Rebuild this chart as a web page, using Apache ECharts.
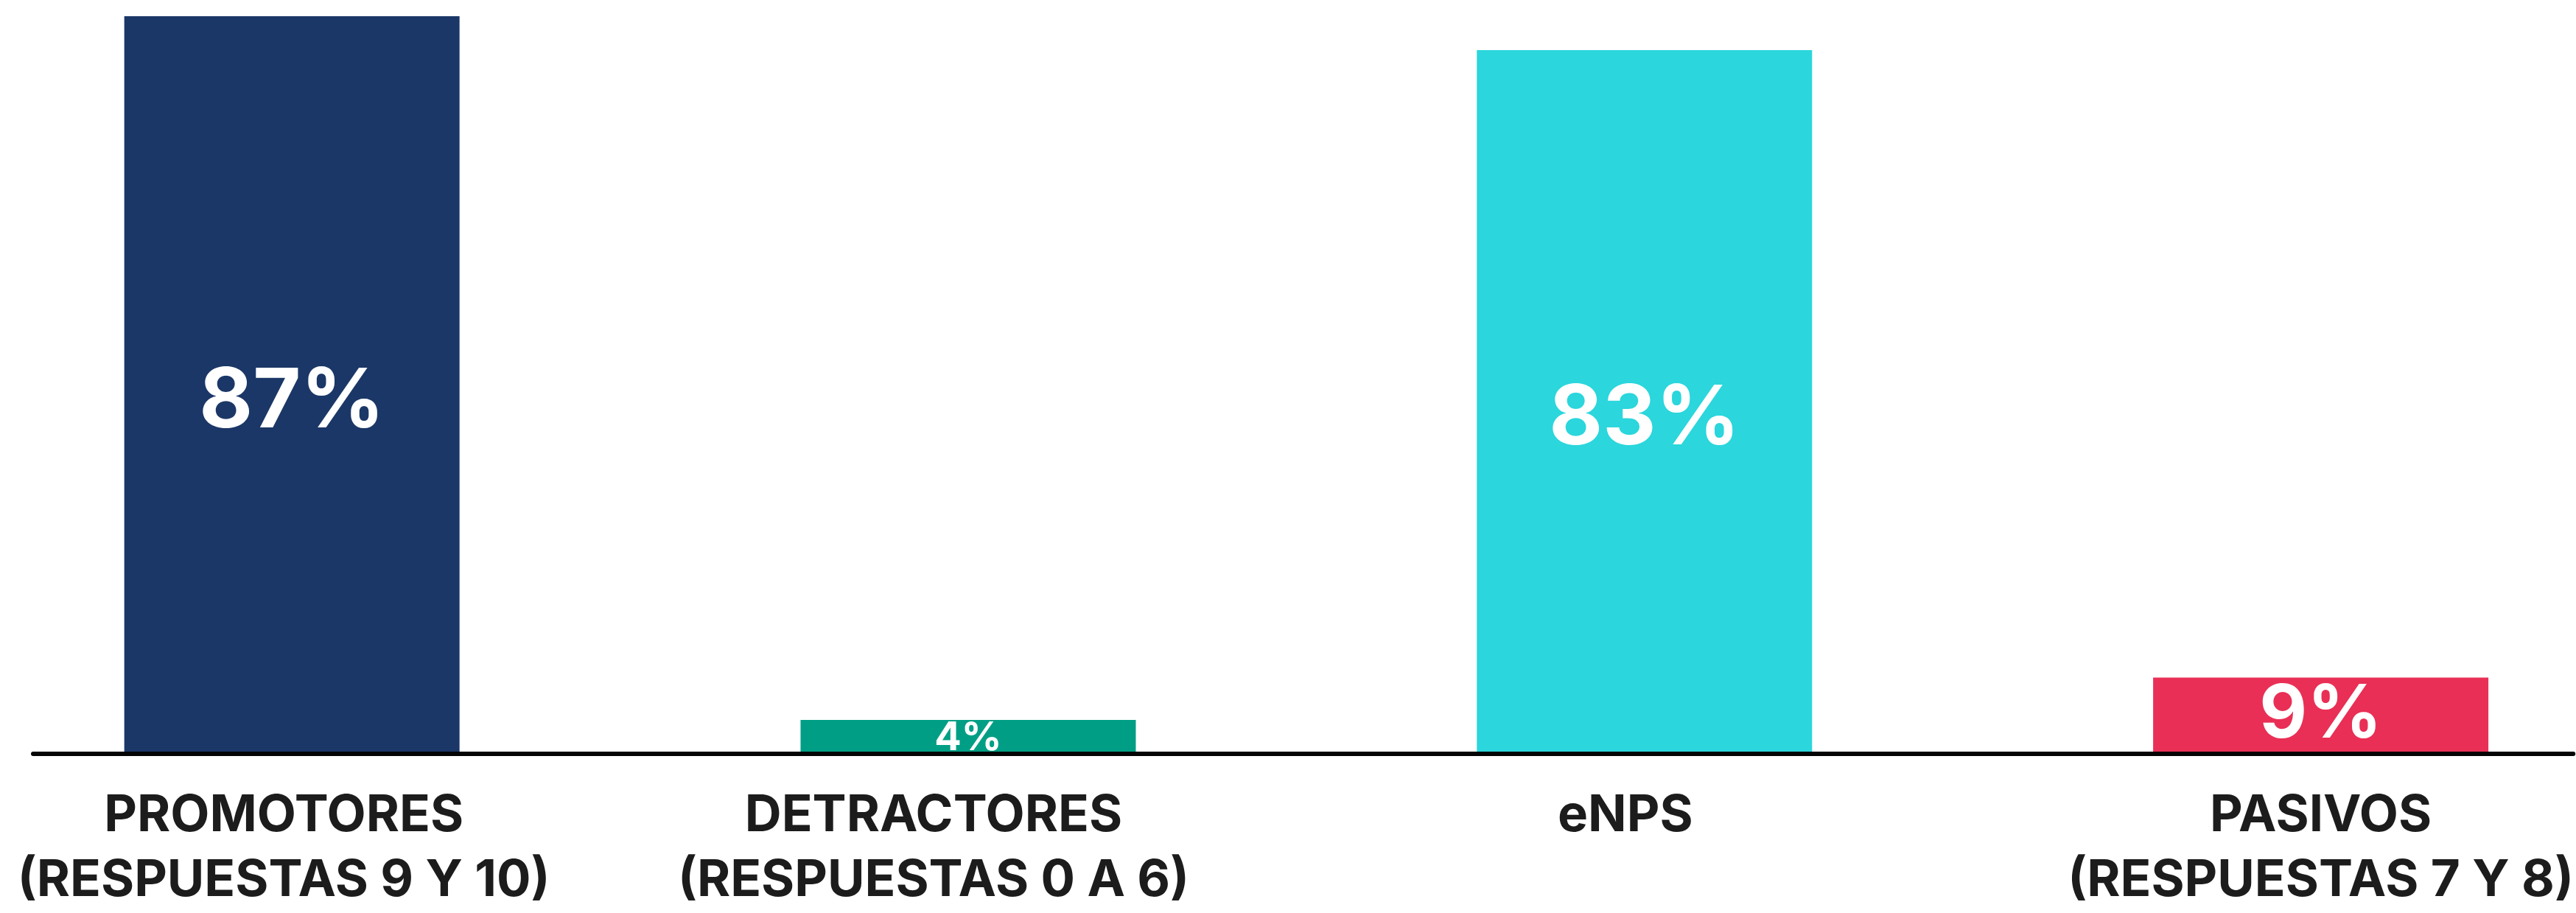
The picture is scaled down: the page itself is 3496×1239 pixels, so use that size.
<!DOCTYPE html>
<html>
<head>
<meta charset="utf-8">
<script src="https://cdn.jsdelivr.net/npm/echarts@6/dist/echarts.min.js"></script>
<style>
  html, body { margin: 0; padding: 0; background: #ffffff; }
  #chart { width: 3496px; height: 1239px; }
</style>
</head>
<body>
<div id="chart"></div>
<script>
// eNPS survey result: share of answers per group
const categories = [
  'PROMOTORES\n(RESPUESTAS 9 Y 10)',
  'DETRACTORES\n(RESPUESTAS 0 A 6)',
  'eNPS',
  'PASIVOS\n(RESPUESTAS 7 Y 8)'
];
const values = [87, 4, 83, 9];

// one colour per group
const barColors = ['#1b3767', '#009f85', '#2bd6dc', '#e92f55'];

const FONT = 'Inter';
const TEXT_DARK = '#1c1c1c';

// groups are placed at 0..3 on a numeric axis whose range leaves
// a little room on the left and lets the last bar sit near the right edge
const slots = categories.map((_, i) => i);
const X_MIN = -0.3826;
const X_MAX = 3.3733;

// label size for each bar, so the number fits inside its block
function valueLabel(v) {
  if (v < 6) return { fontSize: 54, offset: [0, 2] };
  if (v < 20) return { fontSize: 100, offset: [0, 0] };
  return { fontSize: 112, offset: [0, 24] };
}

// small horizontal nudges of the category captions
const captionStyles = {
  c0: { padding: [0, 22, 0, 0] },
  c1: { padding: [0, 94, 0, 0] },
  c2: { padding: [0, 52, 0, 0] },
  c3: { padding: [0, 0, 0, 0] }
};
Object.keys(captionStyles).forEach(k => {
  Object.assign(captionStyles[k], {
    fontFamily: FONT, fontWeight: 'bold', fontSize: 69,
    lineHeight: 88, color: TEXT_DARK
  });
});

const chart = echarts.init(document.getElementById('chart'), null, { renderer: 'canvas' });

const option = {
  backgroundColor: '#ffffff',
  animation: false,
  grid: { left: 45, right: 0, top: 22, bottom: 200, containLabel: false },
  xAxis: {
    type: 'value',
    min: X_MIN,
    max: X_MAX,
    z: 5,
    axisLine: { show: true, onZero: true, lineStyle: { color: '#050505', width: 6 } },
    axisTick: { show: false },
    splitLine: { show: false },
    axisLabel: {
      customValues: slots,
      margin: 40,
      fontFamily: FONT,
      fontWeight: 'bold',
      fontSize: 69,
      lineHeight: 88,
      color: TEXT_DARK,
      formatter: (value) => {
        const idx = Math.round(value);
        return categories[idx].split('\n').map(line => '{c' + idx + '|' + line + '}').join('\n');
      },
      rich: captionStyles
    }
  },
  yAxis: {
    type: 'value',
    min: 0,
    max: 87,
    show: false,
    splitLine: { show: false }
  },
  series: [
    {
      type: 'bar',
      barWidth: 455,
      encode: { x: 0, y: 1 },
      data: values.map((v, i) => {
        const lab = valueLabel(v);
        return {
          value: [slots[i], v],
          itemStyle: { color: barColors[i] },
          label: {
            show: true,
            position: 'inside',
            formatter: (p) => p.value[1] + '%',
            fontFamily: FONT,
            fontWeight: 'bold',
            fontSize: lab.fontSize,
            offset: lab.offset,
            color: '#ffffff'
          }
        };
      })
    }
  ]
};

chart.setOption(option);
</script>
</body>
</html>
